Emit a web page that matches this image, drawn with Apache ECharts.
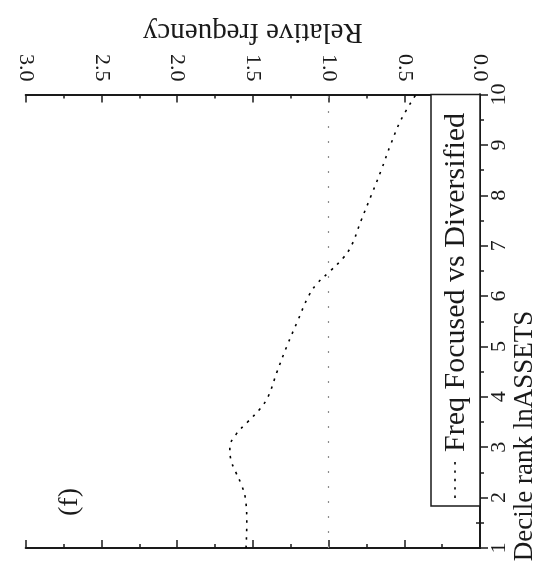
<!DOCTYPE html>
<html>
<head>
<meta charset="utf-8">
<script src="https://cdn.jsdelivr.net/npm/echarts@6/dist/echarts.min.js"></script>
<style>
html,body{margin:0;padding:0;background:#fff;}
#chart{width:543px;height:563px;}
</style>
</head>
<body>
<div id="chart"></div>
<script>
// Decile rank positions (vertical axis) and relative frequency values (horizontal axis)
const deciles = [1, 1.5, 2, 2.25, 2.5, 2.75, 3, 3.25, 3.5, 3.75, 4, 4.5, 5, 5.5, 6, 6.25, 6.5, 6.75, 7, 7.5, 8, 8.5, 9, 9.5, 10];
const freqFocusedVsDiversified = [1.545, 1.540, 1.550, 1.575, 1.612, 1.645, 1.652, 1.612, 1.535, 1.456, 1.400, 1.340, 1.276, 1.205, 1.132, 1.075, 0.988, 0.905, 0.849, 0.785, 0.718, 0.652, 0.591, 0.521, 0.423];
const referenceLevel = 1.0;
const seriesName = 'Freq Focused vs Diversified';
const xTitle = 'Relative frequency';
const yTitle = 'Decile rank lnASSETS';
const panelTag = '(f)';

const FONT = 'Liberation Serif';
const INK = '#1a1a1a';

const chart = echarts.init(document.getElementById('chart'), null, {renderer: 'canvas'});

const frameLine = {show: true, lineStyle: {color: INK, width: 2}};
const tickCommon = {show: true, inside: true, length: 8, lineStyle: {color: INK, width: 1.5}};
const minorCommon = {show: true, splitNumber: 2, length: 4, lineStyle: {color: INK, width: 1.5}};

const option = {
  backgroundColor: '#fff',
  animation: false,
  textStyle: {fontFamily: FONT},
  grid: {left: 25.7, right: 63, top: 94.5, bottom: 15, containLabel: false, outerBoundsMode: 'none'},
  xAxis: [
    {
      type: 'value', position: 'top', inverse: true, min: 0, max: 3, interval: 0.5,
      axisLine: frameLine, axisTick: tickCommon, minorTick: minorCommon,
      splitLine: {show: false}, minorSplitLine: {show: false},
      axisLabel: {show: true, rotate: 90, margin: 13, fontSize: 22, fontFamily: FONT, color: INK,
        formatter: v => v.toFixed(1)},
      name: xTitle, nameLocation: 'middle', nameRotate: 180, nameGap: 48,
      nameTextStyle: {fontSize: 29, fontFamily: FONT, color: INK}
    },
    {
      type: 'value', position: 'bottom', inverse: true, min: 0, max: 3, interval: 0.5,
      axisLine: frameLine, axisTick: tickCommon, minorTick: minorCommon,
      splitLine: {show: false}, axisLabel: {show: false}
    }
  ],
  yAxis: [
    {
      type: 'value', position: 'right', min: 1, max: 10, interval: 1,
      axisLine: frameLine, axisTick: tickCommon, minorTick: minorCommon,
      splitLine: {show: false}, minorSplitLine: {show: false},
      axisLabel: {show: true, rotate: 90, margin: 8, fontSize: 22, fontFamily: FONT, color: INK}
    },
    {
      type: 'value', position: 'left', min: 1, max: 10, interval: 1,
      axisLine: frameLine, axisTick: tickCommon, minorTick: minorCommon,
      splitLine: {show: false}, axisLabel: {show: false}
    }
  ],
  series: [
    {
      name: seriesName,
      type: 'line',
      xAxisIndex: 0, yAxisIndex: 0,
      data: deciles.map((d, i) => [freqFocusedVsDiversified[i], d]),
      showSymbol: false, symbol: 'none',
      smooth: 0.4,
      lineStyle: {color: '#000', width: 1.6, type: [2.4, 6]},
      z: 3,
      markLine: {
        silent: true, symbol: 'none', label: {show: false},
        lineStyle: {color: '#8c8c8c', width: 1.2, type: [2, 13]},
        data: [{xAxis: referenceLevel}]
      }
    }
  ],
  graphic: [
    {
      type: 'text', x: 525, y: 436, rotation: Math.PI / 2,
      style: {text: yTitle, fontSize: 27, fontFamily: FONT, fill: INK, align: 'center', verticalAlign: 'middle'}
    },
    {
      type: 'text', x: 70, y: 502, rotation: Math.PI / 2,
      style: {text: panelTag, fontSize: 28, fontFamily: FONT, fill: INK, align: 'center', verticalAlign: 'middle'}
    },
    {
      type: 'rect', shape: {x: 431, y: 94.5, width: 49, height: 411.5},
      style: {fill: '#fff', stroke: INK, lineWidth: 1.5}, z: 10
    },
    {
      type: 'line', shape: {x1: 455, y1: 498, x2: 455, y2: 462},
      style: {stroke: '#000', lineWidth: 1.6, lineDash: [2.4, 6]}, z: 11
    },
    {
      type: 'text', x: 456, y: 452, rotation: Math.PI / 2, z: 11,
      style: {text: seriesName, fontSize: 30, fontFamily: FONT, fill: INK, align: 'left', verticalAlign: 'middle'}
    }
  ]
};
chart.setOption(option);
</script>
</body>
</html>
